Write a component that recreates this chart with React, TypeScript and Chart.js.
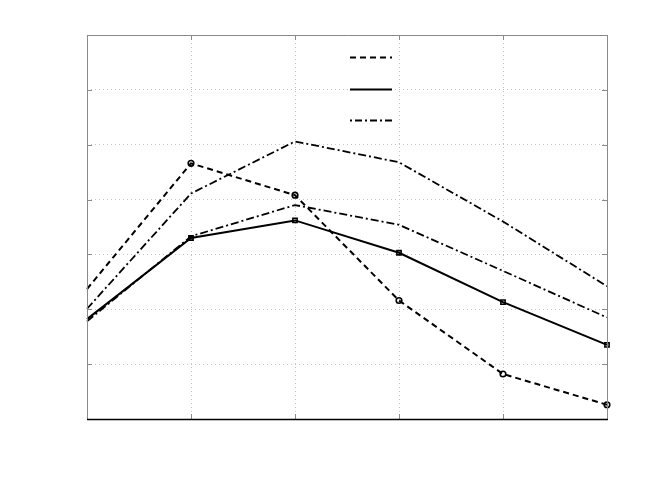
import React, { useEffect, useRef } from "react";
import { Chart, registerables } from "chart.js";
Chart.register(...registerables);

const categories = ["1", "2", "3", "4", "5", "6"];
const seriesDashed = [2.37, 4.66, 4.08, 2.16, 0.82, 0.26];
const seriesSolid = [1.82, 3.3, 3.62, 3.03, 2.13, 1.35];
const seriesDashDotUpper = [2.01, 4.11, 5.06, 4.68, 3.6, 2.42];
const seriesDashDotLower = [1.78, 3.33, 3.9, 3.54, 2.7, 1.85];
const yMin = 0;
const yMax = 7;

const DASH = [6, 4];
const DASHDOT = [8, 3, 2, 3];

const framePlugin = {
  id: "frame",
  afterDraw(chart: any) {
    const { ctx, chartArea } = chart;
    const { left, right, top, bottom } = chartArea;
    const xs = chart.scales.x;
    const ys = chart.scales.y;
    ctx.save();
    ctx.setLineDash([]);
    ctx.lineWidth = 1;
    ctx.strokeStyle = "#8a8a8a";
    ctx.beginPath();
    ys.ticks.forEach((t: any) => {
      const y = Math.round(ys.getPixelForValue(t.value)) + 0.5;
      ctx.moveTo(left, y);
      ctx.lineTo(left + 5, y);
      ctx.moveTo(right, y);
      ctx.lineTo(right - 5, y);
    });
    categories.forEach((_, i) => {
      const x = Math.round(xs.getPixelForValue(i)) + 0.5;
      ctx.moveTo(x, bottom);
      ctx.lineTo(x, bottom - 5);
      ctx.moveTo(x, top);
      ctx.lineTo(x, top + 5);
    });
    ctx.stroke();
    ctx.beginPath();
    ctx.moveTo(left + 0.5, bottom);
    ctx.lineTo(left + 0.5, top + 0.5);
    ctx.lineTo(right + 0.5, top + 0.5);
    ctx.lineTo(right + 0.5, bottom);
    ctx.stroke();
    ctx.strokeStyle = "#000";
    ctx.lineWidth = 1.5;
    ctx.beginPath();
    ctx.moveTo(left, bottom + 0.5);
    ctx.lineTo(right + 1, bottom + 0.5);
    ctx.stroke();

    // legend samples (the reference legend has no labels)
    const samples = [
      { dash: DASH, w: 2 },
      { dash: [] as number[], w: 2 },
      { dash: [2, 3, 7, 3], w: 2 },
    ];
    const lx0 = left + 263;
    const lx1 = left + 305;
    const ly = [top + 22, top + 54, top + 85];
    samples.forEach((s, i) => {
      ctx.strokeStyle = "#000";
      ctx.lineWidth = s.w;
      ctx.setLineDash(s.dash);
      ctx.beginPath();
      ctx.moveTo(lx0, ly[i] + 0.5);
      ctx.lineTo(lx1, ly[i] + 0.5);
      ctx.stroke();
    });
    ctx.restore();
  },
};

export default function App() {
  const ref = useRef<HTMLCanvasElement>(null);
  useEffect(() => {
    if (!ref.current) return;
    const noFirst = (r: number) => categories.map((_, i) => (i === 0 ? 0 : r));
    const chart = new Chart(ref.current, {
      type: "line",
      data: {
        labels: categories,
        datasets: [
          {
            data: seriesDashDotUpper,
            borderColor: "#000",
            borderWidth: 1.8,
            borderDash: DASHDOT,
            pointRadius: 0,
            fill: false,
          },
          {
            data: seriesDashDotLower,
            borderColor: "#000",
            borderWidth: 1.8,
            borderDash: DASHDOT,
            pointRadius: 0,
            fill: false,
          },
          {
            data: seriesDashed,
            borderColor: "#000",
            borderWidth: 2,
            borderDash: DASH,
            pointStyle: "circle",
            pointRadius: noFirst(2.8),
            pointBorderWidth: 1.6,
            pointBorderColor: "#000",
            pointBackgroundColor: "rgba(255,255,255,0)",
            fill: false,
          },
          {
            data: seriesSolid,
            borderColor: "#000",
            borderWidth: 2,
            pointStyle: "rect",
            pointRadius: noFirst(3),
            pointBorderWidth: 1.6,
            pointBorderColor: "#000",
            pointBackgroundColor: "rgba(255,255,255,0)",
            fill: false,
          },
        ],
      },
      options: {
        responsive: false,
        animation: false,
        events: [],
        layout: { padding: { left: 87, top: 35, right: 63, bottom: 67 } },
        plugins: { legend: { display: false }, tooltip: { enabled: false } },
        elements: { line: { tension: 0 } },
        scales: {
          x: {
            type: "category",
            offset: false,
            ticks: { display: false },
            border: { display: false, dash: [1, 3] },
            grid: { drawTicks: false, color: "#c4c4c4", lineWidth: 1 },
          },
          y: {
            min: yMin,
            max: yMax,
            ticks: { display: false, stepSize: 1 },
            border: { display: false, dash: [1, 3] },
            grid: { drawTicks: false, color: "#c4c4c4", lineWidth: 1 },
          },
        },
      },
      plugins: [framePlugin],
    } as any);
    return () => chart.destroy();
  }, []);
  return (
    <div style={{ position: "absolute", left: 0, top: 0, width: 670, height: 486, background: "#fff" }}>
      <canvas ref={ref} width={670} height={486} />
    </div>
  );
}
